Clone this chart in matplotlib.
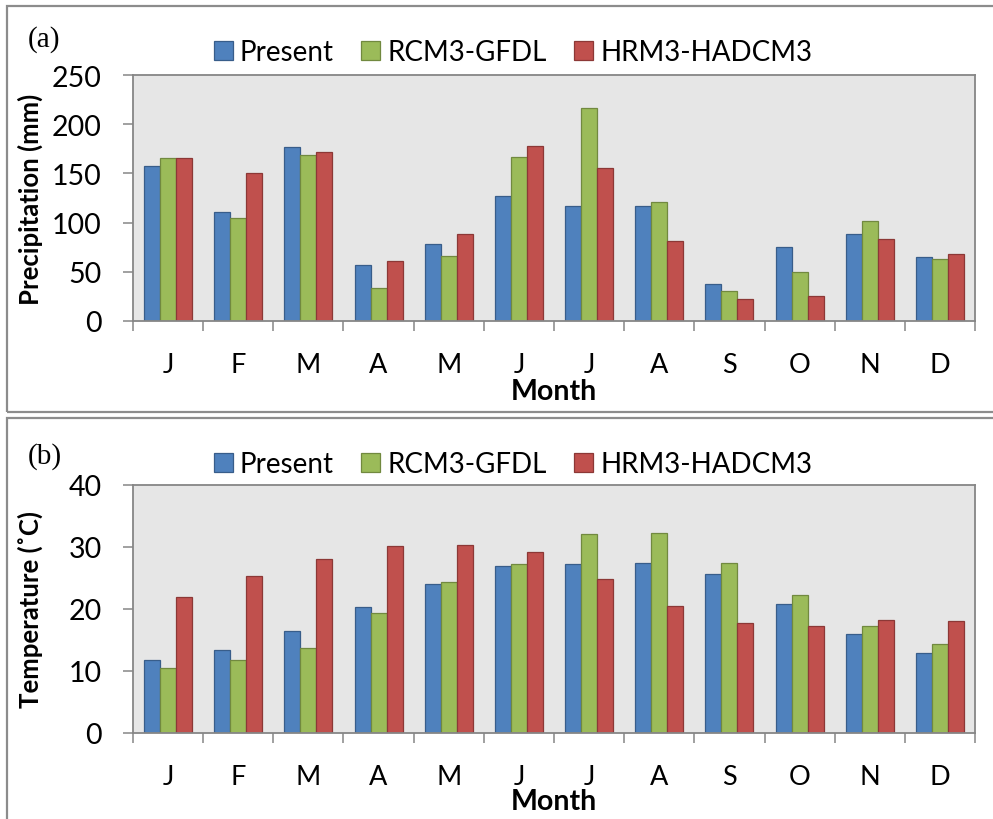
import numpy as np
import matplotlib.pyplot as plt
from matplotlib.patches import Rectangle

plt.rcParams['font.family'] = ['Lato', 'DejaVu Sans']

months = ['J', 'F', 'M', 'A', 'M', 'J', 'J', 'A', 'S', 'O', 'N', 'D']
series = ['Present', 'RCM3-GFDL', 'HRM3-HADCM3']

# Monthly precipitation (mm)
precip_present = [158, 111, 177, 57, 78, 127, 117, 117, 38, 75, 88, 65]
precip_rcm3 = [166, 105, 169, 34, 66, 167, 216, 121, 30, 50, 102, 63]
precip_hrm3 = [166, 150, 172, 61, 88, 178, 155, 81, 22, 25, 83, 68]

# Monthly mean temperature (deg C)
temp_present = [11.8, 13.4, 16.5, 20.3, 24.0, 26.9, 27.3, 27.5, 25.6, 20.8, 15.9, 12.9]
temp_rcm3 = [10.5, 11.8, 13.7, 19.3, 24.4, 27.2, 32.1, 32.2, 27.4, 22.2, 17.2, 14.4]
temp_hrm3 = [21.9, 25.4, 28.1, 30.2, 30.3, 29.2, 24.9, 20.5, 17.8, 17.3, 18.3, 18.1]

face = ['#4F81BD', '#9BBB59', '#C0504D']
edge = ['#385D8A', '#71893F', '#8C3836']
spine_col = '#868686'

W, H = 993, 820
fig = plt.figure(figsize=(W / 100, H / 100), dpi=100)

# gray frames around each panel
fig.patches.append(Rectangle((7 / W, 1 - 413 / H), 1.0, 406 / H, transform=fig.transFigure,
                             fill=False, edgecolor='#8C8C8C', lw=1.6))
fig.patches.append(Rectangle((7 / W, -0.05), 1.0, (1 - 419 / H) + 0.05, transform=fig.transFigure,
                             fill=False, edgecolor='#8C8C8C', lw=1.6))


def panel(rect, data, ymax, ystep, ylabel, tag, tag_y, leg_y, month_y):
    ax = fig.add_axes(rect)
    x = np.arange(len(months))
    bw = 0.228
    for i, vals in enumerate(data):
        ax.bar(x + (i - 1) * bw, vals, bw, color=face[i], edgecolor=edge[i],
               linewidth=0.9, label=series[i], zorder=2)
    ax.set_facecolor('#E6E6E6')
    ax.set_xlim(-0.5, 11.5)
    ax.set_ylim(0, ymax)
    ax.set_yticks(np.arange(0, ymax + 1, ystep))
    ax.set_xticks(np.arange(-0.5, 12, 1))
    ax.set_xticklabels([])
    ax.set_xticks(x, minor=True)
    ax.set_xticklabels(months, minor=True)
    for s in ax.spines.values():
        s.set_color(spine_col)
        s.set_linewidth(1.3)
    ax.tick_params(axis='x', which='major', length=7.5, width=1.1, color=spine_col)
    ax.tick_params(axis='x', which='minor', length=0, pad=22, labelsize=19.5)
    ax.tick_params(axis='y', length=7.5, width=1.1, color=spine_col, pad=15, labelsize=20.5)
    ax.set_ylabel(ylabel, fontsize=18.5, fontweight='bold')
    ax.yaxis.set_label_coords(-0.107, 0.5)
    fig.text(554 / W, 1 - month_y / H, 'Month', fontsize=20.5, fontweight='bold',
             ha='center', va='center')
    fig.text(28 / W, 1 - tag_y / H, tag, fontsize=21, family='Liberation Serif',
             ha='left', va='center')
    handles, labels = ax.get_legend_handles_labels()
    fig.legend(handles, labels, loc='center', bbox_to_anchor=(513 / W, 1 - leg_y / H),
               ncol=3, frameon=False, fontsize=20, handlelength=0.68, handleheight=0.68,
               handletextpad=0.25, columnspacing=1.0)
    return ax


panel([133 / W, 1 - 322 / H, 842 / W, 246 / H],
      [precip_present, precip_rcm3, precip_hrm3], 250, 50,
      'Precipitation (mm)', '(a)', 40, 53, 392)
panel([133 / W, 1 - 734 / H, 842 / W, 248 / H],
      [temp_present, temp_rcm3, temp_hrm3], 40, 10,
      'Temperature (˚C)', '(b)', 457, 465, 802)

fig.savefig('out.png', dpi=100)
